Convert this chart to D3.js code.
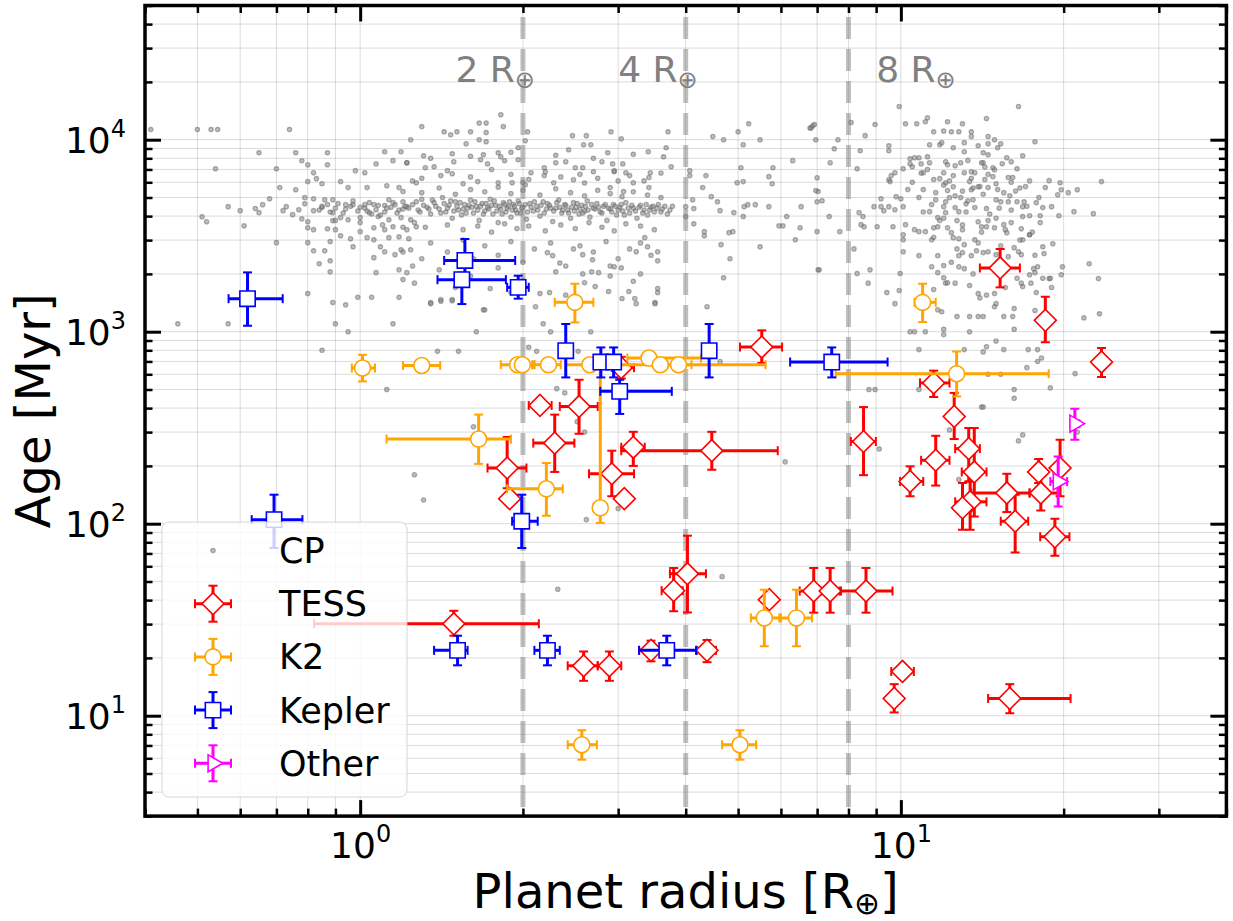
<!DOCTYPE html>
<html>
<head>
<meta charset="utf-8">
<title>Age vs planet radius</title>
<script src="https://cdn.jsdelivr.net/npm/d3@7/dist/d3.min.js"></script>
<style>
  body { margin: 0; background: #fff; }
  svg { display: block; font-family: "DejaVu Sans", sans-serif; }
</style>
</head>
<body>
<svg id="chart" width="1233" height="921"></svg>
<script>
// background sample (CP): [radius in R_earth, age in Myr]
const cpPoints = [
  [0.41,11300],[0.50,11300],[0.53,11300],[0.545,11300],[0.74,11300],[0.65,8550],[0.76,8550],[0.87,8550],
  [0.54,7060],[0.70,7060],[0.87,7410],[0.78,7770],[0.80,7410],[1.11,8660],[1.19,8660],[1.24,10000],
  [1.15,7780],[1.22,7590],[1.07,7480],[0.98,6900],[1.02,6730],[0.82,6730],[0.83,6270],[0.71,5630],
  [0.76,5490],[0.80,6050],[0.85,5900],[0.92,6050],[0.95,5630],[1.03,5630],[1.12,5760],[1.18,5630],
  [0.57,4480],[0.60,4270],[0.64,4380],[0.65,4170],[0.66,4590],[0.68,4930],[0.51,3970],[0.52,3740],
  [0.61,3560],[0.73,4480],[0.72,4270],[0.75,4070],[0.77,4320],[0.79,4990],[0.79,4640],[0.82,4930],
  [0.82,4270],[0.78,3870],[0.80,3740],[0.80,3480],[0.82,3400],[0.85,4430],[0.86,4870],[0.89,4870],
  [0.89,4170],[0.89,3790],[0.92,3930],[0.95,3830],[0.94,4590],[0.97,4590],[1.0,3930],[1.02,4590],
  [1.04,4700],[1.04,4170],[1.07,4320],[1.11,4540],[1.13,4870],[1.16,4590],[1.20,4750],[1.22,4480],
  [1.08,3980],[1.13,3830],[1.19,3930],[1.24,3830],[0.87,3440],[0.90,3400],[1.0,3320],[1.06,3480],
  [1.11,3400],[1.15,3520],[1.22,3400],[1.27,3520],[0.88,2950],[0.92,3160],[0.96,3050],[0.97,2770],
  [1.03,3090],[1.06,3010],[1.09,2770],[1.13,3090],[1.18,3120],[1.23,3050],[1.16,2520],[1.19,2670],
  [1.24,2670],[1.11,2610],[0.82,2640],[0.86,2640],[0.88,2340],[0.84,2260],[0.88,2050],[0.70,2910],
  [0.80,2910],[1.06,2430],[1.07,2030],[1.18,2100],[1.20,1870],[1.22,2030],[1.26,1790],[0.80,1580],
  [0.89,1420],[0.94,1380],[0.99,1510],[1.05,1510],[1.18,1510],[0.46,1100],[0.57,1100],[0.90,1100],
  [1.15,1100],[0.95,1000],[0.85,800],[1.12,500],[1.26,180],
  [1.82,13500],[1.66,12200],[1.71,12200],[1.84,11700],[1.30,11700],[1.43,11000],[1.47,10600],[1.51,11000],
  [1.60,11000],[1.66,10000],[1.71,10900],[1.57,9530],[1.71,9760],[2.04,11000],[2.02,9880],[2.47,10500],
  [2.62,10500],[2.91,11000],[3.04,10100],[2.59,9420],[2.67,9420],[2.43,8870],[3.71,11000],[3.41,8660],
  [3.68,9080],[3.64,8150],[3.76,7230],[2.87,8550],[2.80,7680],[2.93,7480],[3.06,7480],[1.31,8250],
  [1.48,8450],[1.49,7680],[1.69,8350],[1.80,8550],[1.82,8150],[1.96,9080],[1.96,7870],[1.22,7590],
  [1.37,7230],[1.32,7150],[1.67,7870],[1.72,7480],[1.85,7770],[2.07,6730],[2.19,7150],[2.30,7590],
  [2.40,7680],[2.50,7150],[2.58,7150],[2.70,6810],[2.95,6810],[3.10,6730],[3.44,6730],[3.42,6350],
  [3.20,5970],[2.90,5630],[3.07,5370],[3.42,5630],[2.48,6190],[2.28,5970],[2.19,6500],[2.02,5830],
  [1.91,5970],[1.80,5970],[1.65,6050],[1.48,6650],[1.41,6500],[1.27,5970],[1.20,5370],
  [1.35,1420],[1.41,1470],[1.48,1470],[1.69,1300],[1.74,1680],[2.22,2580],[2.27,2490],[2.11,1350],
  [2.15,1580],[2.24,1600],[2.34,2280],[2.48,2700],[2.58,2520],[2.69,2370],[2.58,2000],[2.68,2050],
  [2.76,2030],[2.90,1950],[2.88,1620],[2.72,1720],[3.04,2150],[2.95,2180],[3.05,1490],[3.22,1490],
  [3.14,1620],[3.20,1830],[3.55,2610],[3.55,2340],[3.40,2770],[3.51,1420],[3.55,1680],[3.55,1600],
  [3.24,2610],[3.36,3090],
  [4.49,10400],[4.70,10000],[5.0,11000],[5.23,12100],[5.49,10000],[5.11,9420],[6.31,7780],[6.82,11500],
  [6.87,11800],[6.96,10000],[4.07,6900],[4.07,6500],[4.36,6500],[5.06,7150],[5.70,6420],[5.80,7150],
  [5.78,5900],[5.11,6050],[4.98,5970],[4.30,5630],[4.46,5050],[4.58,4750],[4.12,4870],[4.00,4480],
  [4.14,4380],[4.63,4270],[4.91,4170],[5.13,4480],[5.21,4590],[5.38,4590],[5.70,4480],[6.54,4480],
  [7.0,4750],[7.03,5370],[4.00,3980],[5.11,3980],[5.95,3560],[6.05,3560],[6.15,3980],[6.51,3480],
  [4.14,3650],[4.33,3320],[4.33,3160],[4.81,3280],[4.89,3320],[4.65,2840],[5.49,2770],[6.38,3010],
  [4.83,2400],[4.70,1910],[4.38,1350],[7.03,2100],
  [9.93,14900],[16.5,14900],[11.2,13000],[14.4,12900],[10.2,12100],[10.7,12100],[11.1,12400],[12.2,12400],
  [13.0,12100],[8.09,12300],[8.96,12000],[6.79,11500],[6.92,12000],[11.5,11000],[12.0,11100],[12.4,11000],
  [12.8,11000],[13.5,11000],[13.5,10400],[14.5,10400],[14.9,10000],[15.3,9530],[17.7,9760],[8.59,10500],
  [7.65,10000],[7.53,8970],[8.41,8760],[9.50,9300],[9.50,8760],[11.3,9420],[11.8,9420],[11.9,9650],
  [12.5,9080],[13.1,9650],[13.1,8660],[13.9,9300],[14.2,8550],[14.5,8350],[14.5,9530],[15.1,9080],
  [16.8,8250],[15.7,8060],[16.0,7680],[16.4,7060],[14.9,6980],[14.8,7150],[14.2,7590],[14.1,7590],
  [13.5,6810],[13.7,6730],[13.1,6730],[12.9,7590],[12.6,7320],[12.1,7680],[12.0,6730],[11.8,6270],
  [11.2,8150],[11.3,7590],[10.9,7480],[10.8,8060],[10.6,8060],[10.4,7960],[10.4,7480],[10.5,7230],
  [10.1,7060],[11.0,6730],[9.75,6730],[9.50,6190],[9.55,6050],[8.30,7060],[7.40,7590],[7.0,6340],
  [6.96,5430],[7.15,4810],[12.1,5970],[12.2,5430],[12.5,5690],[13.4,6050],[13.5,5490],[13.9,5690],
  [14.5,5630],[14.8,6420],[15.8,6350],[16.1,6350],[15.0,4870],[15.3,4750],[15.8,4750],[16.4,4750],
  [16.9,4750],[18.5,5630],[18.8,6120],[19.7,5970],[19.8,5490],[19.5,5170],[20.4,5300],[21.2,5490],
  [23.5,6050],[20.9,4220],[22.7,4120],[19.6,4020],[18.1,4020],[17.3,4020],[16.8,3980],[16.8,4480],
  [17.8,4700],[18.3,4430],[19.0,4480],[18.1,3700],[17.3,3200],[16.7,3440],[15.5,3610],[15.6,3400],
  [15.7,3280],[14.9,3480],[14.4,3520],[14.1,3520],[13.9,3740],[14.5,3790],[14.4,4380],[13.7,4430],
  [13.6,4870],[13.2,4640],[12.6,4430],[12.8,4220],[12.7,3790],[12.3,4990],[12.1,4750],[12.0,4480],
  [12.1,4170],[11.6,4870],[11.3,4220],[11.7,3930],[11.5,3480],[11.7,3520],[12.2,3480],[12.4,3280],
  [12.5,3090],[12.8,3050],[13.0,3400],[13.7,3010],[13.1,2840],[13.0,2580],[12.8,2490],[13.5,2490],
  [13.8,2640],[14.2,2580],[14.5,2610],[15.0,2520],[15.8,2460],[16.2,2740],[16.5,2610],[16.7,2520],
  [16.8,3010],[17.3,3200],[18.3,2770],[19.1,2870],[18.4,2550],[17.9,2180],[17.6,2130],[17.7,2030],
  [17.3,1980],[18.8,1890],[19.0,1700],[17.4,1790],[16.7,1790],[16.8,1720],[17.8,1600],[19.8,1980],
  [19.9,2180],[22.3,2260],[23.2,1890],[23.3,1240],[14.9,1580],[15.0,1400],[14.4,1550],[13.9,1580],
  [13.4,1740],[12.6,1790],[12.8,2180],[13.1,2130],[12.0,1910],[12.1,1790],[12.2,1800],[11.4,2180],
  [11.7,2490],[12.0,2210],[10.8,2490],[10.8,3320],[11.1,3320],[11.4,3010],[10.6,3400],[10.2,3610],
  [10.1,3200],[10.1,3010],[10.1,2610],[9.97,2010],[9.93,1640],[9.75,1400],[9.42,1600],[9.04,3520],
  [8.92,4480],[9.19,4930],[9.19,4480],[9.30,4270],[9.50,4480],[9.75,4320],[9.80,5050],[10.0,4930],
  [10.1,4480],[9.67,3520],[8.44,3610],[8.55,3520],[8.37,4170],[8.51,3980],[7.71,3320],[7.37,3980],
  [7.0,3320],[7.06,2100],[8.30,2010],[8.70,1790],[8.77,2100],[8.19,2700],[11.7,2030],[11.5,1660],
  [11.7,1300],[11.9,1270],[12.7,1200],[13.4,1200],[13.9,1200],[14.2,1200],[15.5,1200],[16.2,1320],
  [16.1,1200],[17.7,1290],[18.3,1900],[18.9,1900],[21.8,1180],
  [14.9,1350],[10.4,1000],[10.6,1000],[11.1,1000],[12.0,1030],[12.0,966],[13.4,1000],[16.2,1030],
  [15.0,895],[14.4,835],[14.2,785],[15.5,807],[13.1,807],[10.8,807],[17.2,807],[17.9,807],
  [17.9,700],[18.2,730],[17.1,650],[14.5,600],[15.3,600],[21.0,605],[18.9,510],[16.2,500],
  [16.2,450],[14.1,405],[14.2,405],[8.73,500],[8.96,500],[10.8,500],[16.8,290],[16.5,270],
  [12.3,308],[9.12,245],[12.8,170],[21.2,300],
  [1.35,1400],[1.41,1440],[1.48,1450],[1.70,1300],[2.18,1100],[2.25,1000],[2.67,1000],[1.64,1000],
  [1.39,790],[1.52,790],[2.05,830],[2.12,790],[2.53,790],[2.31,505],[2.39,480],[1.62,320],
  [2.60,300],[2.52,340],[1.31,133],[2.62,105],[3.0,120],[2.32,45.6],[3.24,1400],[3.51,1400],
  [4.67,53],[6.11,210],[4.63,700],
  [1.25,4600],[1.28,4300],[1.3,4900],[1.33,4450],[1.35,4100],[1.37,4700],[1.4,4350],[1.42,5000],
  [1.44,4200],[1.46,4550],[1.48,3900],[1.5,4750],[1.52,4300],[1.54,4050],[1.56,4600],[1.58,4400],
  [1.6,4850],[1.62,4150],[1.64,4500],[1.66,3800],[1.68,4650],[1.7,4250],[1.72,4450],[1.74,4900],
  [1.76,4100],[1.78,4550],[1.8,3700],[1.82,4350],[1.84,4700],[1.86,4200],[1.88,4500],[1.9,3950],
  [1.92,4600],[1.94,4300],[1.96,4800],[1.98,4150],[2.0,4450],[2.03,3850],[2.06,4650],[2.09,4250],
  [2.12,4500],[2.15,4000],[2.18,4750],[2.21,4350],[2.24,4550],[2.27,3750],[2.3,4400],[2.33,4850],
  [2.36,4150],[2.39,4600],[2.42,4300],[2.45,3900],[2.48,4700],[2.51,4450],[2.54,4100],[2.57,4550],
  [2.6,4250],[2.63,4800],[2.66,3950],[2.7,4400],[2.74,4650],[2.78,4200],[2.82,4500],[2.86,3800],
  [2.9,4350],[2.94,4600],[2.98,4050],[3.02,4450],[3.06,4250],[3.1,4700],[3.15,4150],[3.2,4400],
  [3.25,3900],[3.3,4550],[3.35,4300],[3.4,4050],[3.45,4450],[3.5,4200],[3.56,4600],[3.62,4350],
  [3.7,4100],[3.78,4500],[1.26,3700],[1.32,3500],[1.45,3600],[1.55,3400],[1.65,3550],[1.75,3300],
  [1.85,3650],[1.95,3450],[2.05,3550],[2.2,3350],[2.35,3600],[2.5,3450],[2.65,3700],[2.8,3500],
  [2.95,3350],[3.1,3650],[3.3,3550],[3.5,3400],[1.3,5300],[1.4,5600],[1.5,5200],[1.6,5500],
  [1.7,5350],[1.8,5650],[1.9,5250],[2.0,5450],[2.15,5150],[2.3,5550],[2.45,5300],[2.6,5100],
  [2.75,5450],[2.9,5250],[3.05,5050],[3.2,5350],[3.4,5150],[3.6,5000],
  [0.85,4500],[0.88,4200],[0.91,4650],[0.94,4350],[0.97,4800],[1.0,4450],[1.03,4250],[1.06,4600],
  [1.09,4050],[1.12,4400],[1.15,4700],[1.18,4300],[1.21,4500],[0.9,3800],[1.0,3700],[1.1,3600],[1.2,3500],
  [1.35,2900],[1.45,2600],[1.55,3000],[1.62,2400],[1.7,2800],[1.8,2500],[1.9,2950],[2.0,2300],
  [2.1,2700],[2.25,2900],[2.4,2200],[2.55,2800],[2.7,2600],[2.85,2950],[3.0,2400],[3.15,2700],
  [3.3,2900],[3.45,2500],[1.4,2100],[1.6,1950],[1.8,2150],[2.0,1850],[2.3,2050],[2.6,1800],
  [2.9,2200],[3.3,2000],[1.5,1700],[1.9,1600],[2.4,1550],[1.3,2400],[1.25,2200],[1.2,2600],
  [1.3,6300],[1.45,6900],[1.6,6400],[1.75,7000],[1.9,6600],[2.05,6200],[2.2,6800],[2.35,6400],
  [2.55,6600],[2.75,6300],[2.95,6900],[3.15,6500],[3.35,6100],[3.6,6700],[1.35,8000],[1.6,8200],
  [1.9,8600],[2.3,8300],[2.7,8000],[3.2,8400],[1.25,6100],[1.55,5900],[2.0,6000],[2.6,5950],[3.0,6100],
  [10.5,6000],[11,5500],[11.5,6200],[12,5800],[12.5,6500],[13,5400],[13.5,6300],[14,5700],
  [14.5,6600],[15,5900],[15.5,5300],[16,6000],[10.8,5000],[11.4,4600],[12.6,5100],[13.3,4800],
  [14.2,5200],[15.2,4400],[16.3,5400],[17,5700],[11.2,7000],[12.2,7400],[13.3,7800],[14.3,7200],
  [15.4,7500],[11.8,3800],[13,3600],[14.6,4100],[16,3700],[17.5,3300],[12.4,2300],[13.6,2000],
  [15.2,2200],[16.4,1900],[14,1500],[15.6,1700],
  [1.23,4400],[1.27,4750],[1.29,4200],[1.31,4550],[1.34,4350],[1.36,4850],[1.38,4500],[1.41,4150],
  [1.43,4650],[1.45,4400],[1.47,4800],[1.49,4250],[1.51,4500],[1.53,4700],[1.55,4350],[1.57,4150],
  [1.59,4550],[1.61,4450],[1.63,4750],[1.65,4300],[1.67,4500],[1.69,4100],[1.71,4650],[1.73,4350],
  [1.75,4550],[1.77,4800],[1.79,4250],[1.81,4500],[1.83,4100],[1.85,4600],[1.87,4400],[1.89,4750],
  [1.91,4300],[1.93,4500],[1.95,4150],[1.97,4650],[1.99,4400],[2.02,4600],[2.04,4200],[2.07,4450],
  [2.1,4750],[2.13,4300],[2.16,4550],[2.19,4150],[2.22,4650],[2.25,4400],[2.28,4250],[2.31,4700],
  [2.34,4450],[2.37,4300],[2.4,4550],[2.43,4150],[2.46,4450],[2.49,4250],[2.52,4650],[2.55,4350],
  [2.58,4150],[2.61,4500],[2.64,4300],[2.68,4600],[2.72,4350],[2.76,4450],[2.8,4150],[2.84,4600],
  [2.88,4400],[2.92,4200],[2.96,4500],[3.0,4300],[3.04,4600],[3.08,4050],[3.13,4400],[3.18,4550],
  [3.23,4250],[3.28,4450],[3.33,4150],[3.38,4600],[3.43,4300],[3.48,4500],[3.54,4400],[3.6,4200],
  [3.66,4500],[3.74,4300],[0.84,4300],[0.87,4600],[0.9,4400],[0.93,4150],[0.96,4500],[0.99,4250],
  [1.02,4400],[1.05,4100],[1.08,4550],[1.11,4200],[1.14,4450],[1.17,4150],[1.2,4350],
  [9.6,6500],[10.3,5500],[10.9,6700],[11.6,5300],[12.3,6100],[12.9,5000],[13.6,5600],[14.3,6200],
  [15.1,5500],[15.9,5100],[16.6,5600],[17.3,6100],[11.0,4200],[12.0,3900],[13.2,4200],[14.1,3300],
  [15.0,3900],[16.0,4300],[17.1,4500],[18.0,5000],[11.5,3100],[12.7,2700],[13.9,2900],[15.3,2800],
  [16.6,3000],[17.7,2500]
];

// surveys: [radius, radius low, radius high, age, age low, age high]
const tessRows = [
  [5.53,5.04,6.03,832,687,1016],[3.04,2.92,3.21,650,570,740],[2.15,2.05,2.26,413,413,413],
  [2.54,2.34,2.75,408,294,562],[2.29,2.09,2.49,263,186,370],[3.20,3.04,3.36,250,200,301],
  [4.47,3.04,5.92,240,191,301],[1.87,1.72,2.03,195,153,283],[1.89,1.89,1.89,135,135,135],
  [2.92,2.65,3.21,182,139,240],[3.08,3.08,3.08,135,135,135],[4.03,3.74,4.36,54.9,34.5,86.6],
  [3.80,3.61,3.95,44.8,35,58.8],[5.71,5.6,5.85,40.2,40.2,40.2],[6.90,6.5,7.2,44.6,34.4,58.8],
  [7.40,7.1,7.7,44.6,34.4,58.8],[8.62,7.75,9.65,44.6,34.4,58.8],[18.5,18.5,18.5,1146,880,1520],
  [23.5,23.5,23.5,695,581,822],[11.5,10.85,12.3,541,457,627],[12.55,12.55,12.55,362,276,480],
  [8.53,8.08,8.99,268,179,405],[11.6,10.9,12.3,214,158,287],[10.4,9.97,11.0,166,139,199],
  [13.35,12.6,14.0,246,166,315],[13.67,12.96,14.4,186,109,315],[13.43,12.6,14.4,130,93,166],
  [13.0,12.8,13.2,121,93,163],[15.7,13.5,17.3,144.6,115,182],[18.15,17.3,19.5,144.6,117,176],
  [17.98,17.5,18.5,186,163,217],[19.7,19.7,19.7,195,139,274],[16.27,15.3,17.2,103,70.8,141.6],
  [19.27,18.1,20.5,85.4,68,106],[15.26,14.0,16.6,2148,1702,2698],[1.49,0.822,2.14,30.1,26.1,35.2],
  [2.59,2.42,2.75,18.2,15.2,21.6],[2.89,2.75,3.04,18.2,15.2,21.6],[3.45,3.28,3.6,21.9,19.2,24.6],
  [4.38,4.2,4.55,21.9,19,24.8],[10.07,9.60,10.57,17.0,17.0,17.0],[9.72,9.72,9.72,12.3,10.4,14.6],
  [15.9,14.5,20.6,12.3,10.3,14.6]
];
const k2Rows = [
  [2.495,2.29,2.70,1422,1117,1778],[10.97,10.6,11.6,1422,1123,1778],[1.01,0.965,1.065,647,551,758],
  [1.30,1.20,1.406,667,667,667],[1.955,1.82,2.1,673,673,673],[1.995,1.9,2.1,673,673,673],
  [2.23,2.08,2.35,673,673,673],[2.66,2.4,2.95,673,673,673],[3.42,3.12,4.27,729,729,729],
  [3.59,2.78,5.62,673,673,673],[3.88,3.7,4.1,673,673,673],[1.656,1.119,1.90,276,205,370],
  [2.21,1.87,2.37,152,110,207],[2.78,2.70,2.86,121,101,673],[5.59,5.28,5.96,32.3,23,45.3],
  [6.41,6.0,6.85,32.3,23,45.3],[2.57,2.42,2.74,7.06,5.9,8.4],[5.04,4.67,5.40,7.06,5.9,8.4],
  [12.68,7.58,18.77,604,460,789]
];
const keplerRows = [
  [0.619,0.571,0.719,1486,1074,2037],[0.693,0.630,0.782,105,74.7,141.6],[1.562,1.43,1.935,2350,1950,3040],
  [1.542,1.39,1.86,1866,1393,2030],[1.96,1.87,2.05,1702,1486,1958],[2.40,2.40,2.40,796,578,1097],
  [2.787,2.787,2.787,695,578,828],[2.943,2.943,2.943,695,578,828],[3.02,2.78,3.77,489,373,562],
  [4.42,4.42,4.42,796,578,1097],[7.45,6.24,9.45,695,578,828],[1.99,1.91,2.13,103,74.7,141.6],
  [1.514,1.37,1.58,21.9,18.3,26.1],[2.22,2.10,2.34,21.9,18.3,26.1],[3.69,3.28,4.18,21.9,18.3,26.1]
];
const otherRows = [
  [20.98,20.6,21.4,332,274,397],[19.54,18.9,20.3,166,123,224]
];

const radiusLines = [2, 4, 8];
const radiusLabels = [[1.5, "2 R"], [3, "4 R"], [9, "8 R"]];
const legendNames = ["CP", "TESS", "K2", "Kepler", "Other"];
const xMajor = [1, 10];
const yMajor = [10, 100, 1000, 10000];

const svg = d3.select("#chart");
const x = d3.scaleLog().domain([0.4, 40]).range([145, 1226.4]);
const y = d3.scaleLog().domain([3, 5e4]).range([816.1, 5.5]);
const [xl, xr] = x.range();
const [yb, yt] = y.range();

// grid
const grid = svg.append("g").attr("stroke", "#000").attr("stroke-opacity", 0.14).attr("stroke-width", 1);
grid.selectAll(".gx").data(x.ticks()).join("line").attr("class", "gx")
  .attr("x1", d => x(d)).attr("x2", d => x(d)).attr("y1", yb).attr("y2", yt);
grid.selectAll(".gy").data(y.ticks()).join("line").attr("class", "gy")
  .attr("x1", xl).attr("x2", xr).attr("y1", d => y(d)).attr("y2", d => y(d));

svg.append("clipPath").attr("id", "clip").append("rect")
  .attr("x", xl).attr("y", yt).attr("width", xr - xl).attr("height", yb - yt);
const plot = svg.append("g").attr("clip-path", "url(#clip)");

// CP cloud
const cpStyle = s => s.attr("r", 2.2)
  .attr("fill", "#808080").attr("fill-opacity", 0.5)
  .attr("stroke", "#666").attr("stroke-opacity", 0.5).attr("stroke-width", 1.2);
plot.append("g").selectAll("circle").data(cpPoints).join("circle")
  .attr("cx", d => x(d[0])).attr("cy", d => y(d[1])).call(cpStyle);

// reference radii
plot.append("g").selectAll("line").data(radiusLines).join("line")
  .attr("x1", d => x(d)).attr("x2", d => x(d)).attr("y1", yb).attr("y2", yt)
  .attr("stroke", "#808080").attr("stroke-opacity", 0.5).attr("stroke-width", 5)
  .attr("stroke-dasharray", "22,10").attr("stroke-dashoffset", 23);

const ann = svg.append("g").attr("fill", "#808080").attr("font-size", 36)
  .selectAll("text").data(radiusLabels).join("text")
  .attr("x", d => x(d[0])).attr("y", y(2e4));
ann.append("tspan").text(d => d[1]);
ann.append("tspan").attr("font-size", 24).attr("dy", 6).text("\u2295");

const markers = {
  TESS: { color: "#ff0000", path: d3.symbol(d3.symbolSquare, 240)(), rot: 45 },
  K2: { color: "#ffa500", path: d3.symbol(d3.symbolCircle, 201)(), rot: 0 },
  Kepler: { color: "#0000ff", path: d3.symbol(d3.symbolSquare, 235)(), rot: 0 },
  Other: { color: "#ff00ff", path: d3.symbol(d3.symbolTriangle, 125)(), rot: 90 }
};

function drawSeries(parent, rows, m, px, py) {
  const g = parent.append("g").attr("stroke", m.color);
  const xe = rows.filter(d => d[2] > d[1]);
  const ye = rows.filter(d => d[5] > d[4]);
  g.append("g").attr("stroke-width", 3).selectAll("line").data(xe).join("line")
    .attr("x1", d => px(d[1])).attr("x2", d => px(d[2])).attr("y1", d => py(d[3])).attr("y2", d => py(d[3]));
  g.append("g").attr("stroke-width", 3).selectAll("line").data(ye).join("line")
    .attr("x1", d => px(d[0])).attr("x2", d => px(d[0])).attr("y1", d => py(d[4])).attr("y2", d => py(d[5]));
  const caps = g.append("g").attr("stroke-width", 2);
  caps.selectAll(".cx").data(xe.flatMap(d => [[d[1], d[3]], [d[2], d[3]]])).join("line").attr("class", "cx")
    .attr("x1", d => px(d[0])).attr("x2", d => px(d[0])).attr("y1", d => py(d[1]) - 4.5).attr("y2", d => py(d[1]) + 4.5);
  caps.selectAll(".cy").data(ye.flatMap(d => [[d[0], d[4]], [d[0], d[5]]])).join("line").attr("class", "cy")
    .attr("x1", d => px(d[0]) - 4.5).attr("x2", d => px(d[0]) + 4.5).attr("y1", d => py(d[1])).attr("y2", d => py(d[1]));
  g.append("g").selectAll("path").data(rows).join("path")
    .attr("transform", d => `translate(${px(d[0])},${py(d[3])}) rotate(${m.rot})`)
    .attr("d", m.path).attr("fill", "#fff").attr("stroke-width", 1.6);
}

drawSeries(plot, tessRows, markers.TESS, x, y);
drawSeries(plot, k2Rows, markers.K2, x, y);
drawSeries(plot, keplerRows, markers.Kepler, x, y);
drawSeries(plot, otherRows, markers.Other, x, y);

// legend
const legend = svg.append("g");
legend.append("rect").attr("x", 162).attr("y", 522).attr("width", 245).attr("height", 275).attr("rx", 7)
  .attr("fill", "#fff").attr("fill-opacity", 0.8).attr("stroke", "#cccccc").attr("stroke-opacity", 0.8);
const rowY = i => 550.5 + 53.2 * i;
legend.append("circle").attr("cx", 213).attr("cy", rowY(0)).call(cpStyle);
legendNames.slice(1).forEach((name, i) => {
  const cy = rowY(i + 1);
  const lx = d3.scaleLinear().domain([-1, 1]).range([195, 231]);
  const ly = d3.scaleLinear().domain([-1, 1]).range([cy + 18, cy - 18]);
  drawSeries(legend, [[0, -1, 1, 0, -1, 1]], markers[name], lx, ly);
});
legend.append("g").attr("font-size", 35).selectAll("text").data(legendNames).join("text")
  .attr("x", 279).attr("y", (d, i) => rowY(i) + 12.5).text(d => d);

// axes (ticks inward on all sides)
function axis(gen, tx, ty, values, size, width) {
  const g = svg.append("g").attr("transform", `translate(${tx},${ty})`)
    .call(gen.tickValues(values).tickSize(-size).tickFormat(""));
  g.attr("font-size", null).attr("font-family", null);
  g.select(".domain").remove();
  g.selectAll(".tick line").attr("stroke-width", width);
  return g;
}
function powerLabel(sel) {
  sel.each(function (d) {
    const t = d3.select(this).text(null);
    t.append("tspan").text("10");
    t.append("tspan").attr("font-size", 24).attr("dy", -16).text(Math.round(Math.log10(d)));
  });
}
const xMinor = x.ticks().filter(v => !xMajor.includes(v));
const yMinor = y.ticks().filter(v => !yMajor.includes(v));

axis(d3.axisBottom(x), 0, yb, xMinor, 7.5, 2.5);
axis(d3.axisTop(x), 0, yt, xMinor, 7.5, 2.5);
axis(d3.axisLeft(y), xl, 0, yMinor, 7.5, 2.5);
axis(d3.axisRight(y), xr, 0, yMinor, 7.5, 2.5);
axis(d3.axisTop(x), 0, yt, xMajor, 16, 3);
axis(d3.axisRight(y), xr, 0, yMajor, 16, 3);

axis(d3.axisBottom(x), 0, yb, xMajor, 16, 3).selectAll(".tick text")
  .attr("font-size", 36).attr("y", 42).attr("dy", null).call(powerLabel);
axis(d3.axisLeft(y), xl, 0, yMajor, 16, 3).selectAll(".tick text")
  .attr("font-size", 36).attr("x", -19).attr("y", 13).attr("dy", null).call(powerLabel);

svg.append("rect").attr("x", xl).attr("y", yt).attr("width", xr - xl).attr("height", yb - yt)
  .attr("fill", "none").attr("stroke", "#000").attr("stroke-width", 3.5);

// axis titles
const xt = svg.append("text").attr("x", (xl + xr) / 2).attr("y", 908).attr("text-anchor", "middle").attr("font-size", 48);
xt.append("tspan").text("Planet radius [R");
xt.append("tspan").attr("font-size", 31).attr("dy", 6).text("\u2295");
xt.append("tspan").attr("dy", -6).text("]");
svg.append("text").attr("transform", `translate(50,${(yb + yt) / 2}) rotate(-90)`)
  .attr("text-anchor", "middle").attr("font-size", 48).text("Age [Myr]");
</script>
</body>
</html>
